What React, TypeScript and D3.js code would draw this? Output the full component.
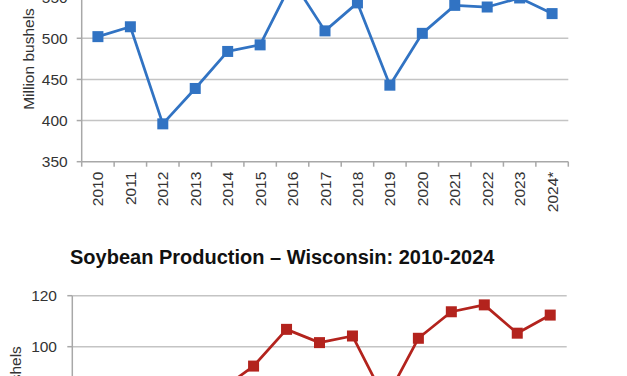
import React from "react";
import * as d3 from "d3";

const years = ["2010","2011","2012","2013","2014","2015","2016","2017","2018","2019","2020","2021","2022","2023","2024*"];
const cornValues = [502, 514, 396, 439, 484, 492, 570, 509, 543, 443, 506, 540, 538, 549, 530];
const soyValues = [69, 62, 65, 66, 83, 92.4, 106.8, 101.6, 104.2, 79, 103.3, 113.7, 116.4, 105.3, 112.4];
const cornTicks = [350, 400, 450, 500, 550, 600];
const soyTicks = [40, 60, 80, 100, 120];
const soyTitle = "Soybean Production – Wisconsin: 2010-2024";
const yTitle = "Million bushels";

const FONT = "'Liberation Sans', Arial, sans-serif";
const BLUE = "#3173c3";
const RED = "#b3231d";
const GRID = "#c4c4c4";
const AXIS = "#a8a8a8";
const TEXT = "#333";

type ChartProps = {
  values: number[];
  ticks: number[];
  domain: [number, number];
  x0: number; x1: number;
  yAt: [number, number];
  color: string;
  showXLabels: boolean;
  labelX: number; labelCy: number; tickLabelEnd: number;
};

function Chart(p: ChartProps) {
  const x = d3.scaleBand<string>().domain(years).range([p.x0, p.x1]);
  const y = d3.scaleLinear().domain(p.domain).range(p.yAt);
  const line = d3.line<number>().x((_, i) => (x(years[i]) as number) + x.bandwidth() / 2).y(d => y(d));
  const baseY = y(p.domain[0]);
  const bounds = years.map(yr => x(yr) as number).concat([p.x1]);
  return (
    <g>
      {p.ticks.filter(t => t !== p.domain[0]).map(t => (
        <line key={"g" + t} x1={p.x0} x2={p.x1} y1={y(t)} y2={y(t)} stroke={GRID} strokeWidth={1.5} />
      ))}
      {p.ticks.map(t => (
        <line key={"t" + t} x1={p.x0 - 5} x2={p.x0} y1={y(t)} y2={y(t)} stroke={AXIS} strokeWidth={1.5} />
      ))}
      {p.ticks.map(t => (
        <text key={"l" + t} x={p.tickLabelEnd} y={y(t)} dominantBaseline="central" textAnchor="end"
          fontFamily={FONT} fontSize={15.5} fill={TEXT}>{t}</text>
      ))}
      <line x1={p.x0} x2={p.x0} y1={y(p.domain[1])} y2={baseY} stroke={AXIS} strokeWidth={1.5} />
      <line x1={p.x0} x2={p.x1} y1={baseY} y2={baseY} stroke={AXIS} strokeWidth={1.5} />
      {bounds.map((b, i) => (
        <line key={"xt" + i} x1={b} x2={b} y1={baseY} y2={baseY + 5} stroke={AXIS} strokeWidth={1.5} />
      ))}
      {p.showXLabels && years.map(yr => {
        const cx = (x(yr) as number) + x.bandwidth() / 2;
        const ty = baseY + 10;
        return (
          <text key={"xl" + yr} transform={`translate(${cx},${ty}) rotate(-90)`} textAnchor="end"
            dominantBaseline="central" fontFamily={FONT} fontSize={15.5} fill={TEXT}>{yr}</text>
        );
      })}
      <text transform={`translate(${p.labelX},${p.labelCy}) rotate(-90)`} textAnchor="middle"
        dominantBaseline="central" fontFamily={FONT} fontSize={15.5} fill={TEXT}>{yTitle}</text>
      <path d={line(p.values) || ""} fill="none" stroke={p.color} strokeWidth={2.75} strokeLinejoin="round" />
      {p.values.map((v, i) => {
        const cx = (x(years[i]) as number) + x.bandwidth() / 2;
        return <rect key={"m" + i} x={cx - 5.5} y={y(v) - 5.5} width={11} height={11} fill={p.color} />;
      })}
    </g>
  );
}

export default function App() {
  return (
    <svg width={627} height={376} style={{ position: "absolute", left: 0, top: 0, background: "#fff" }}>
      <rect width={627} height={376} fill="#fff" />
      <Chart values={cornValues} ticks={cornTicks} domain={[350, 600]} x0={81.7} x1={568.3}
        yAt={[161.7, -44]} color={BLUE} showXLabels={true} labelX={28} labelCy={59} tickLabelEnd={67.7} />
      <text x={70} y={264} fontFamily={FONT} fontWeight="bold" fontSize={20} fill="#111">{soyTitle}</text>
      <Chart values={soyValues} ticks={soyTicks} domain={[40, 120]} x0={72.3} x1={566.7}
        yAt={[499.7, 295.7]} color={RED} showXLabels={false} labelX={15} labelCy={397} tickLabelEnd={57} />
    </svg>
  );
}
